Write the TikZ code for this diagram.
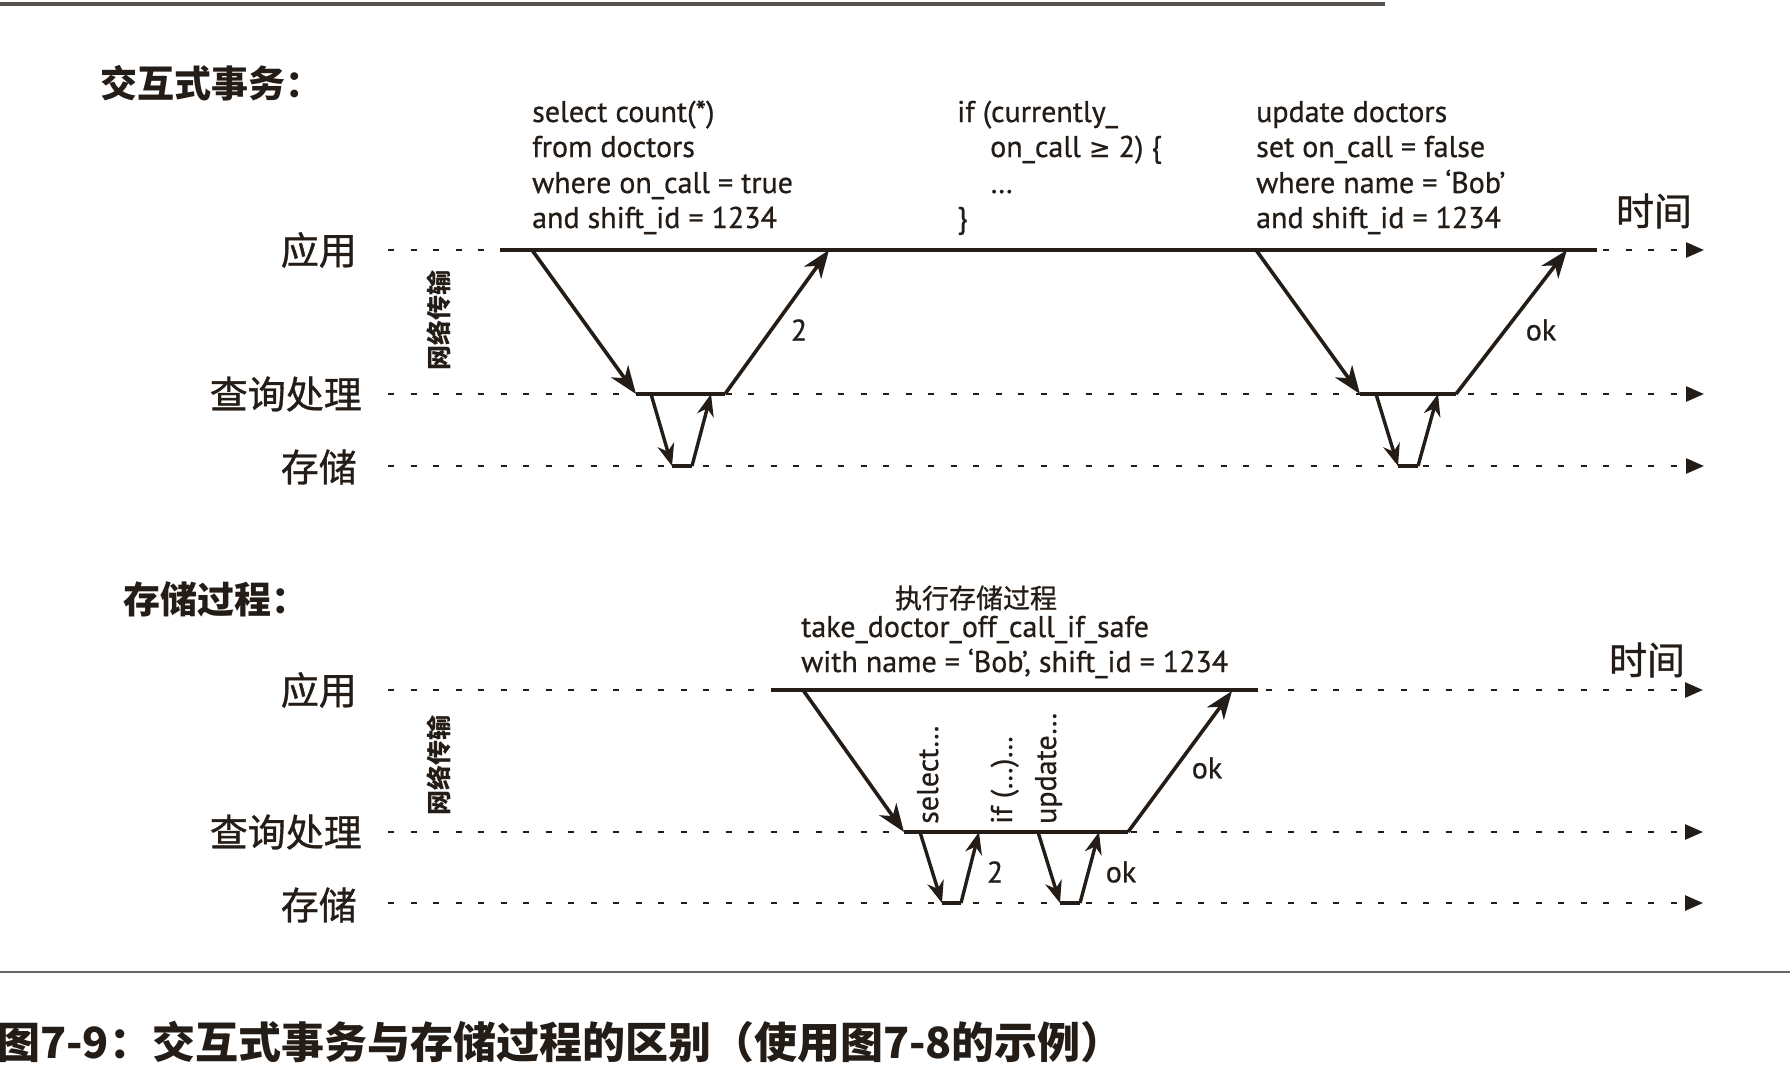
\documentclass[tikz,border=0pt]{standalone}
\usepackage{fontspec}
\setmainfont{PT Sans}
\newfontfamily\codef{PT Sans}[FakeBold=0.7]
\newfontfamily\cjk{Noto Sans CJK SC}
\newfontfamily\cjkm{Noto Sans CJK SC}[FakeBold=0.9]
\newfontfamily\symf{DejaVu Sans}[FakeBold=0.3]
\usetikzlibrary{arrows.meta}
\definecolor{ink}{RGB}{36,29,23}
\begin{document}
\begin{tikzpicture}[x=1pt,y=-1pt,
  lane/.style={ink, line width=2.7pt, dash pattern=on 6pt off 16.5pt, -{Triangle[length=18pt,width=15pt]}},
  tline/.style={ink, line width=4pt},
  msg/.style={ink, line width=3.6pt, -{Stealth[length=28pt,width=21pt,inset=8.5pt]}},
  smsg/.style={ink, line width=3.4pt, -{Stealth[length=22pt,width=17pt,inset=7pt]}},
  code/.style={anchor=base west, inner sep=0pt, text=ink, font=\codef\fontsize{30}{34}\selectfont},
  lbl/.style={inner sep=0pt, text=ink, font=\codef\fontsize{30}{34}\selectfont},
  lanelabel/.style={anchor=east, inner sep=0pt, text=ink, font=\cjkm\fontsize{38}{40}\selectfont},
  timelabel/.style={inner sep=0pt, text=ink, font=\cjkm\fontsize{38}{40}\selectfont},
  heading/.style={anchor=west, inner sep=0pt, text=ink, font=\cjk\bfseries\fontsize{37}{40}\selectfont},
  net/.style={rotate=90, inner sep=0pt, text=ink, font=\cjk\bfseries\fontsize{25}{26}\selectfont},
  vcode/.style={rotate=90, anchor=base west, inner sep=0pt, text=ink, font=\codef\fontsize{30}{34}\selectfont},
  rule/.style={line width=2pt, color=gray!75!ink}
]
\useasboundingbox[fill=white] (0,0) rectangle (1790,1082);

% page rules
\coordinate (r1a) at (0,4); \coordinate (r1b) at (1385,4);
\draw[rule, line width=3.5pt, color=gray!55!ink] (r1a) -- (r1b);
\coordinate (r2a) at (0,972); \coordinate (r2b) at (1790,972);
\draw[rule] (r2a) -- (r2b);

%%%%%%%%%%%%%%%% TOP: interactive transaction
\node[heading] (h1) at (100,83) {交互式事务：};

\node[lanelabel] (la1) at (357,250) {应用};
\node[lanelabel] (lq1) at (362,394) {查询处理};
\node[lanelabel] (ls1) at (357,467) {存储};
\node[net] (n1) at (439,320) {网络传输};
\node[timelabel] (t1) at (1654,211) {时间};

\coordinate (a1s) at (388,250); \coordinate (a1e) at (1704,250);
\coordinate (q1s) at (388,394); \coordinate (q1e) at (1704,394);
\coordinate (s1s) at (388,466); \coordinate (s1e) at (1704,466);
\draw[lane] (a1s) -- (a1e);
\draw[lane] (q1s) -- (q1e);
\draw[lane] (s1s) -- (s1e);

% code blocks
\node[code] (c11) at (532,122) {select count(*)};
\node[code] (c12) at (532,157) {from doctors};
\node[code] (c13) at (532,193) {where on\_call = true};
\node[code] (c14) at (532,228) {and shift\_id = 1234};
\node[code] (c21) at (957,122) {if (currently\_};
\node[code] (c22) at (990,157) {on\_call {\symf\fontsize{26}{30}\selectfont ≥} 2) \{};
\node[code] (c23) at (990,193) {…};
\node[code] (c24) at (957,228) {\}};
\node[code] (c31) at (1256,122) {update doctors};
\node[code] (c32) at (1256,157) {set on\_call = false};
\node[code] (c33) at (1256,193) {where name = ‘Bob’};
\node[code] (c34) at (1256,228) {and shift\_id = 1234};

% app timeline
\coordinate (app1a) at (500,250); \coordinate (app1b) at (1597,250);
\draw[tline] (app1a) -- (app1b);

% transaction 1
\coordinate (p1) at (532,250); \coordinate (p2) at (636,394);
\coordinate (p3) at (725,394); \coordinate (p4) at (829,250);
\coordinate (p5) at (651,394); \coordinate (p6) at (672,466);
\coordinate (p7) at (692,466); \coordinate (p8) at (711,394);
\draw[tline, line width=3.5pt] (p2) -- (p3);
\draw[tline, line width=3.5pt] (p6) -- (p7);
\draw[msg] (p1) -- (p2);
\draw[msg] (p3) -- (p4);
\draw[smsg] (p5) -- (p6);
\draw[smsg] (p7) -- (p8);
\node[lbl] (two1) at (799,330) {2};

% transaction 2
\coordinate (u1) at (1256,250); \coordinate (u2) at (1360,394);
\coordinate (u3) at (1456,394); \coordinate (u4) at (1567,250);
\coordinate (u5) at (1376,394); \coordinate (u6) at (1398,466);
\coordinate (u7) at (1418,466); \coordinate (u8) at (1438,394);
\draw[tline, line width=3.5pt] (u2) -- (u3);
\draw[tline, line width=3.5pt] (u6) -- (u7);
\draw[msg] (u1) -- (u2);
\draw[msg] (u3) -- (u4);
\draw[smsg] (u5) -- (u6);
\draw[smsg] (u7) -- (u8);
\node[lbl] (ok1) at (1541,330) {ok};

%%%%%%%%%%%%%%%% BOTTOM: stored procedure
\node[heading] (h2) at (123,599) {存储过程：};

\node[lanelabel] (la2) at (357,690) {应用};
\node[lanelabel] (lq2) at (362,832) {查询处理};
\node[lanelabel] (ls2) at (357,905) {存储};
\node[net] (n2) at (439,765) {网络传输};
\node[timelabel] (t2) at (1647,660) {时间};

\coordinate (a2s) at (388,690); \coordinate (a2e) at (1703,690);
\coordinate (q2s) at (388,832); \coordinate (q2e) at (1703,832);
\coordinate (s2s) at (388,903); \coordinate (s2e) at (1703,903);
\draw[lane] (a2s) -- (a2e);
\draw[lane] (q2s) -- (q2e);
\draw[lane] (s2s) -- (s2e);

\node[inner sep=0pt, text=ink, font=\cjkm\fontsize{27}{30}\selectfont] (exec) at (976,598) {执行存储过程};
\node[code] (sp1) at (801,637) {take\_doctor\_off\_call\_if\_safe};
\node[code] (sp2) at (801,672) {with name = ‘Bob’, shift\_id = 1234};

\coordinate (app2a) at (771,690); \coordinate (app2b) at (1258,690);
\draw[tline] (app2a) -- (app2b);

\coordinate (v1) at (803,690); \coordinate (v2) at (904,832);
\coordinate (v3) at (1128,832); \coordinate (v4) at (1232,691);
\draw[tline, line width=3.5pt] (v2) -- (v3);
\draw[msg] (v1) -- (v2);
\draw[msg] (v3) -- (v4);
\node[lbl] (ok2) at (1207,768) {ok};

\coordinate (w1) at (920,832); \coordinate (w2) at (942,903);
\coordinate (w3) at (961,903); \coordinate (w4) at (979,832);
\coordinate (w5) at (1038,832); \coordinate (w6) at (1060,903);
\coordinate (w7) at (1080,903); \coordinate (w8) at (1099,832);
\draw[tline, line width=3.5pt] (w2) -- (w3);
\draw[tline, line width=3.5pt] (w6) -- (w7);
\draw[smsg] (w1) -- (w2);
\draw[smsg] (w3) -- (w4);
\draw[smsg] (w5) -- (w6);
\draw[smsg] (w7) -- (w8);
\node[lbl] (two2) at (995,872) {2};
\node[lbl] (ok3) at (1121,872) {ok};

\node[vcode] (vs1) at (938,824) {select…};
\node[vcode] (vs2) at (1012,824) {if (…)…};
\node[vcode] (vs3) at (1056,824) {update…};

% caption
\node[anchor=west, inner sep=0pt, text=ink, font=\cjk\bfseries\fontsize{43}{45}\selectfont] (cap) at (-3,1042) {图7-9：交互式事务与存储过程的区别（使用图7-8的示例）};
\end{tikzpicture}
\end{document}
